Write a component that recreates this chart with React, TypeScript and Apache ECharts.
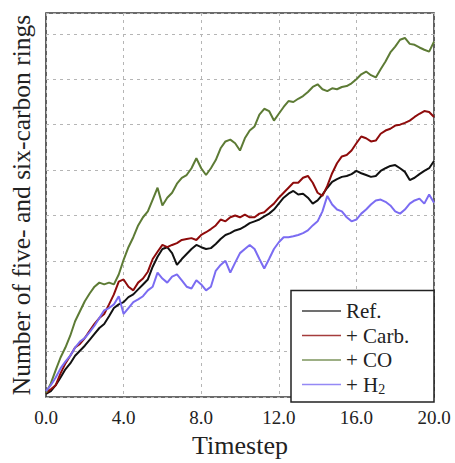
import React, { useEffect, useRef } from 'react';
import * as echarts from 'echarts';

const timesteps = [
  0, 0.25, 0.5, 0.75, 1, 1.25, 1.5, 1.75, 2, 2.25, 2.5, 2.75, 3, 3.25, 3.5, 3.75,
  4, 4.25, 4.5, 4.75, 5, 5.25, 5.5, 5.75, 6, 6.25, 6.5, 6.75, 7, 7.25, 7.5, 7.75,
  8, 8.25, 8.5, 8.75, 9, 9.25, 9.5, 9.75, 10, 10.25, 10.5, 10.75, 11, 11.25, 11.5, 11.75,
  12, 12.25, 12.5, 12.75, 13, 13.25, 13.5, 13.75, 14, 14.25, 14.5, 14.75, 15, 15.25, 15.5, 15.75,
  16, 16.25, 16.5, 16.75, 17, 17.25, 17.5, 17.75, 18, 18.25, 18.5, 18.75, 19, 19.25, 19.5, 19.75, 20,
];

const refValues = [
  0.7, 1.3, 2.6, 4.3, 6.1, 7.4, 9.1, 10.2, 11.3, 12.6, 13.9, 15.2, 16.1, 17.8, 19.6, 20.4,
  20.9, 22.0, 22.6, 23.7, 24.8, 25.9, 28.7, 30.9, 32.6, 33.0, 31.7, 29.1, 30.4, 31.5, 32.6, 33.5,
  33.0, 32.6, 32.8, 33.7, 34.8, 35.7, 36.1, 36.7, 37.0, 37.6, 38.3, 38.7, 39.1, 39.8, 40.4, 41.3,
  42.6, 43.9, 44.8, 45.4, 44.6, 44.8, 43.9, 42.6, 43.3, 44.6, 46.1, 47.4, 48.0, 48.5, 48.7, 49.1,
  49.8, 49.3, 48.9, 48.5, 48.7, 49.8, 50.4, 50.9, 51.1, 50.4, 49.6, 47.8, 48.3, 49.1, 49.8, 50.4, 52.0,
];

const carbValues = [
  0.9, 1.7, 2.6, 5.2, 7.4, 9.1, 10.9, 11.7, 13.0, 14.6, 16.1, 17.4, 18.3, 20.4, 22.6, 25.4,
  25.9, 24.3, 23.5, 25.2, 26.1, 27.6, 30.4, 32.0, 33.5, 33.0, 33.5, 33.9, 34.6, 34.8, 35.0, 34.6,
  35.7, 36.3, 37.0, 37.8, 39.1, 38.7, 39.6, 40.0, 39.6, 40.2, 39.6, 39.6, 40.4, 40.7, 41.7, 42.6,
  43.9, 45.0, 46.1, 47.2, 47.2, 48.3, 48.7, 47.2, 45.0, 44.3, 46.5, 49.3, 51.5, 53.0, 53.3, 54.3,
  55.9, 57.4, 57.0, 56.3, 56.5, 58.0, 58.7, 59.1, 59.8, 60.0, 60.4, 60.9, 61.7, 62.4, 63.0, 62.8, 61.7,
];

const coValues = [
  0.9, 3.0, 5.9, 8.7, 10.9, 13.5, 16.7, 18.9, 21.1, 22.8, 24.3, 25.2, 24.8, 25.2, 24.8, 27.0,
  30.2, 33.0, 35.2, 37.8, 39.6, 40.9, 43.5, 46.1, 42.2, 43.9, 45.0, 47.0, 48.3, 48.9, 50.4, 52.6,
  50.4, 48.9, 50.4, 52.2, 54.8, 56.3, 56.7, 55.9, 54.3, 57.0, 58.7, 59.6, 62.2, 63.5, 63.0, 60.9,
  62.4, 63.9, 65.2, 65.0, 65.7, 66.3, 67.2, 68.3, 68.9, 67.8, 67.4, 68.0, 67.8, 68.3, 68.5, 69.1,
  70.0, 71.1, 71.7, 70.9, 70.4, 72.2, 73.9, 75.9, 77.2, 78.7, 79.1, 77.8, 77.6, 77.0, 76.5, 76.1, 78.3,
];

const h2Values = [
  1.3, 2.6, 4.3, 6.3, 7.8, 9.1, 10.9, 12.2, 13.0, 14.3, 15.7, 17.4, 19.1, 19.6, 20.4, 22.2,
  18.3, 19.6, 20.9, 21.5, 22.2, 23.5, 24.3, 27.4, 26.1, 25.2, 26.5, 27.0, 25.7, 24.3, 23.9, 25.7,
  24.8, 23.5, 24.3, 27.8, 29.1, 30.0, 27.4, 29.6, 31.7, 32.6, 33.5, 32.6, 30.4, 28.3, 30.4, 32.6,
  34.1, 35.2, 35.2, 35.4, 35.7, 36.1, 36.7, 37.8, 38.7, 40.9, 44.3, 42.4, 41.3, 40.9, 39.6, 38.7,
  39.1, 40.4, 41.3, 42.4, 43.3, 43.5, 43.0, 42.2, 40.9, 40.4, 41.3, 42.6, 43.3, 43.7, 42.6, 44.6, 42.8,
];

const seriesNames = ['Ref.', '+ Carb.', '+ CO', '+ H2'];
const seriesColors = ['#111111', '#8e0b0b', '#5d7b35', '#7b6cf2'];
const xTickInterval = 4;
const yGridInterval = 10;

const FONT = 'Liberation Serif';

export default function App() {
  const ref = useRef<HTMLDivElement>(null);

  useEffect(() => {
    if (!ref.current) return;
    const chart = echarts.init(ref.current, undefined, { renderer: 'svg' });
    const allValues = [refValues, carbValues, coValues, h2Values];
    const gridLine = { show: true, lineStyle: { color: '#b5b5b5', type: [3, 4] as any, width: 1 } };
    chart.setOption({
      animation: false,
      backgroundColor: '#ffffff',
      textStyle: { fontFamily: FONT },
      grid: {
        left: 45,
        top: 13,
        right: 21,
        bottom: 61,
        show: true,
        borderColor: '#3a3a3a',
        borderWidth: 1.6,
        backgroundColor: 'transparent',
        containLabel: false,
      },
      xAxis: {
        type: 'value',
        min: 0,
        max: 20,
        interval: xTickInterval,
        name: 'Timestep',
        nameLocation: 'middle',
        nameGap: 35,
        nameTextStyle: { fontFamily: FONT, fontSize: 26, color: '#222' },
        axisLine: { show: false },
        axisTick: { show: false },
        axisLabel: {
          fontFamily: FONT,
          fontSize: 19,
          color: '#222',
          margin: 11,
          formatter: (v: number) => v.toFixed(1),
        },
        splitLine: gridLine,
      },
      yAxis: {
        type: 'value',
        min: 0,
        max: 84.6,
        interval: yGridInterval,
        name: 'Number of five- and six-carbon rings',
        nameLocation: 'middle',
        nameGap: 12,
        nameTextStyle: { fontFamily: FONT, fontSize: 25.5, color: '#222' },
        axisLine: { show: false },
        axisTick: { show: false },
        axisLabel: { show: false },
        splitLine: gridLine,
      },
      legend: {
        orient: 'vertical',
        right: 21,
        bottom: 61,
        backgroundColor: '#ffffff',
        borderColor: '#222222',
        borderWidth: 1.5,
        borderRadius: 0,
        padding: [9, 12, 6, 11],
        icon: 'rect',
        itemWidth: 39,
        itemHeight: 1.3,
        itemGap: 1.5,
        itemTextGap: 10,
        itemStyle: { opacity: 0.8 },
        data: seriesNames,
        textStyle: {
          fontFamily: FONT,
          fontSize: 21,
          color: '#222',
          lineHeight: 23,
          width: 76,
          rich: {
            sub: { fontFamily: FONT, fontSize: 14, color: '#222', verticalAlign: 'bottom', lineHeight: 23 },
          },
        },
        formatter: (name: string) => (name === '+ H2' ? '+ H{sub|2}' : name),
      },
      series: seriesNames.map((name, i) => ({
        name,
        type: 'line',
        symbol: 'none',
        showSymbol: false,
        data: timesteps.map((t, j) => [t, allValues[i][j]]),
        lineStyle: { color: seriesColors[i], width: 2 },
        itemStyle: { color: seriesColors[i] },
      })),
    });
    return () => chart.dispose();
  }, []);

  return (
    <div
      ref={ref}
      style={{ position: 'fixed', left: 0, top: 0, width: 455, height: 463 }}
    />
  );
}
